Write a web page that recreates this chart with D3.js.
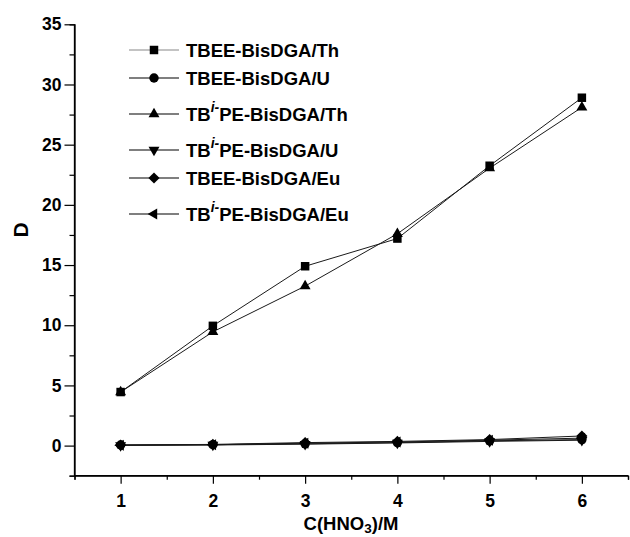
<!DOCTYPE html>
<html>
<head>
<meta charset="utf-8">
<script src="https://cdn.jsdelivr.net/npm/d3@7"></script>
<style>
  body { margin: 0; background: #fff; }
  svg text { font-family: "Liberation Sans", Arial, sans-serif; font-weight: bold; fill: #000; }
</style>
</head>
<body>
<div class="view"></div>
<script>
// data
const conc = [1, 2, 3, 4, 5, 6]
const tbeeTh = [4.45, 9.95, 14.9, 17.2, 23.25, 28.9]
const tbeeU = [0.05, 0.08, 0.15, 0.25, 0.4, 0.5]
const tbipeTh = [4.45, 9.45, 13.25, 17.6, 23.05, 28.1]
const tbipeU = [0.02, 0.05, 0.12, 0.22, 0.35, 0.45]
const tbeeEu = [0.05, 0.1, 0.25, 0.35, 0.5, 0.8]
const tbipeEu = [0.03, 0.07, 0.2, 0.3, 0.45, 0.62]
const yTicks = [0, 5, 10, 15, 20, 25, 30, 35]
const xTicks = [1, 2, 3, 4, 5, 6]

// legend: prefix, superscript, rest
const series = [
  { pre: 'TBEE-BisDGA/Th', sup: '', post: '', values: tbeeTh, shape: 'square' },
  { pre: 'TBEE-BisDGA/U', sup: '', post: '', values: tbeeU, shape: 'circle' },
  { pre: 'TB', sup: 'i-', post: 'PE-BisDGA/Th', values: tbipeTh, shape: 'up' },
  { pre: 'TB', sup: 'i-', post: 'PE-BisDGA/U', values: tbipeU, shape: 'down' },
  { pre: 'TBEE-BisDGA/Eu', sup: '', post: '', values: tbeeEu, shape: 'diamond' },
  { pre: 'TB', sup: 'i-', post: 'PE-BisDGA/Eu', values: tbipeEu, shape: 'left' }
]

const w = 630
const h = 537

const svg = d3.select('.view')
  .append('svg')
  .attr('width', w)
  .attr('height', h)

const xScale = d3.scaleLinear().domain([0.5, 6.5]).range([74.5, 628])
const yScale = d3.scaleLinear().domain([-2.5, 35]).range([475.7, 24.3])

const line = d3.line()
  .x((d, i) => xScale(conc[i]))
  .y((d) => yScale(d))

// lines first, then markers
series.forEach((s) => {
  svg.append('path')
    .attr('d', line(s.values))
    .attr('fill', 'none')
    .attr('stroke', '#1a1a1a')
    .attr('stroke-width', 1)
})

// 标记形状
function drawMarker(x, y, shape) {
  let type = d3.symbolTriangle, size = 52, rot = 0
  if (shape === 'square') { type = d3.symbolSquare; size = 72 }
  if (shape === 'circle') { type = d3.symbolCircle; size = 70 }
  if (shape === 'diamond') { type = d3.symbolSquare; size = 62; rot = 45 }
  if (shape === 'down') rot = 180
  if (shape === 'left') rot = -90
  svg.append('path')
    .attr('d', d3.symbol().type(type).size(size)())
    .attr('transform', 'translate(' + x + ',' + y + ') rotate(' + rot + ')')
    .attr('fill', '#000')
}

series.forEach((s) => {
  s.values.forEach((v, i) => drawMarker(xScale(conc[i]), yScale(v), s.shape))
})

// axes
const yAxis = d3.axisLeft(yScale).tickValues(yTicks).tickSize(10).tickPadding(3)
const yMinor = d3.axisLeft(yScale).tickValues(d3.range(-2.5, 35, 5)).tickSize(5).tickFormat('')
const xAxis = d3.axisBottom(xScale).tickValues(xTicks).tickSize(8).tickPadding(11).tickFormat(d3.format('d'))
const xMinor = d3.axisBottom(xScale).tickValues(d3.range(0.5, 6.6, 1)).tickSize(4).tickFormat('')

const gy = svg.append('g').attr('transform', 'translate(74.5,0)').call(yAxis)
svg.append('g').attr('transform', 'translate(74.5,0)').call(yMinor)
const gx = svg.append('g').attr('transform', 'translate(0,475.7)').call(xAxis)
svg.append('g').attr('transform', 'translate(0,475.7)').call(xMinor)

svg.selectAll('.domain').attr('stroke', '#000').attr('stroke-width', 1.3)
svg.selectAll('.tick line').attr('stroke', '#000').attr('stroke-width', 1.2)
gy.selectAll('text').attr('font-size', 17.5).attr('font-family', null)
gx.selectAll('text').attr('font-size', 17.5).attr('font-family', null)
// y axis line stops at 35, no outer ticks
gy.select('.domain').attr('d', 'M0,' + yScale(35) + 'V' + yScale(-2.5))
gx.select('.domain').attr('d', 'M' + xScale(0.5) + ',0H' + xScale(6.5))

// axis titles
svg.append('text')
  .attr('transform', 'translate(28,230) rotate(-90)')
  .attr('text-anchor', 'middle')
  .attr('font-size', 21)
  .text('D')

const xt = svg.append('text')
  .attr('x', 351)
  .attr('y', 530)
  .attr('text-anchor', 'middle')
  .attr('font-size', 18.5)
xt.append('tspan').text('C(HNO')
xt.append('tspan').attr('font-size', 13.5).attr('dy', 3).text('3')
xt.append('tspan').attr('dy', -3).text(')/M')

// 图例
let ly = 50
series.forEach((s, i) => {
  if (i > 0) ly += s.sup ? 36 : 28
  svg.append('line')
    .attr('x1', 129).attr('x2', 179)
    .attr('y1', ly).attr('y2', ly)
    .attr('stroke', i === 0 ? '#888' : '#000')
    .attr('stroke-width', 1.2)
  drawMarker(154, ly, s.shape)
  const t = svg.append('text')
    .attr('x', 186)
    .attr('y', ly + 6.5)
    .attr('font-size', 18.5)
  t.append('tspan').text(s.pre)
  if (s.sup) {
    t.append('tspan').attr('font-size', 14).attr('font-style', 'italic').attr('dy', -9).text(s.sup)
    t.append('tspan').attr('dy', 9).text(s.post)
  }
})
</script>
</body>
</html>
